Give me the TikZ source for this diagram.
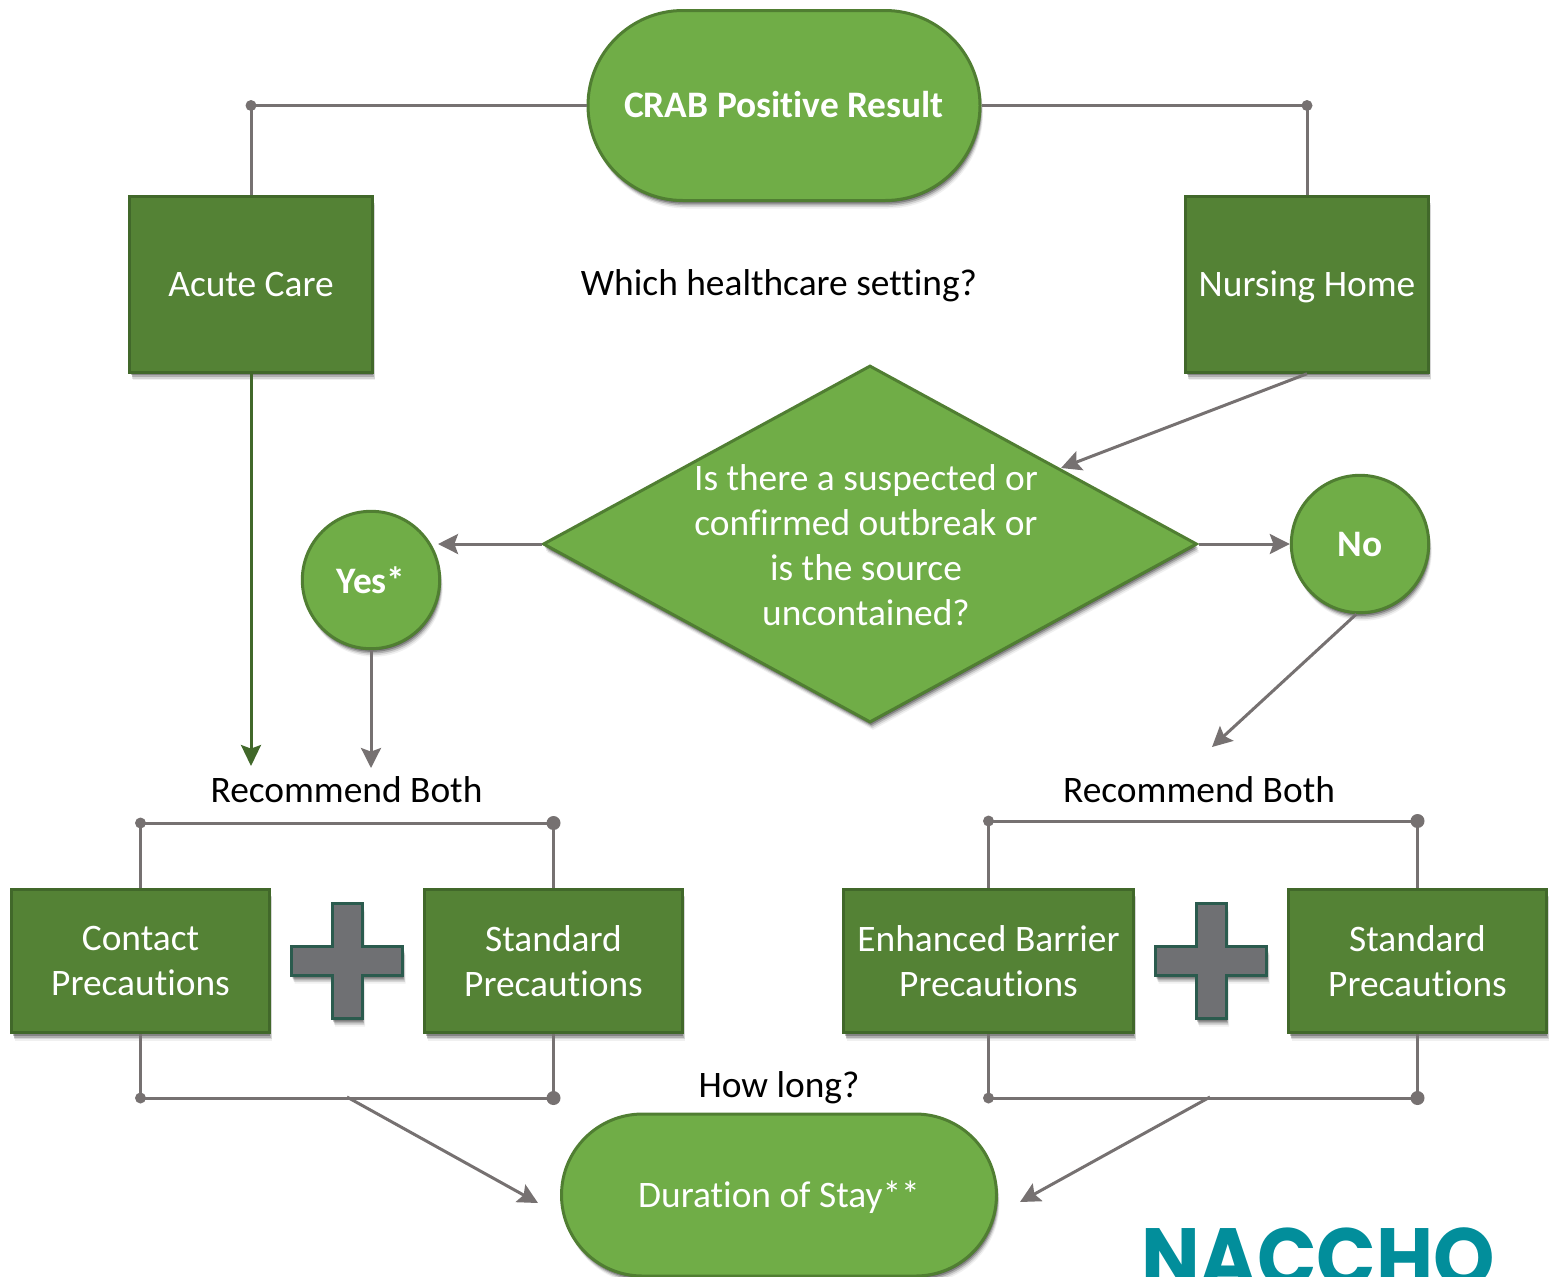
\documentclass[tikz,border=0pt]{standalone}
\usepackage{fontspec}
\setmainfont[Ligatures=NoCommon]{Carlito}
\newfontfamily\logofont{Poppins}
\usetikzlibrary{shadows,shapes.geometric,shapes.misc,arrows.meta}
\definecolor{lightg}{HTML}{70AD47}
\definecolor{lightb}{HTML}{507E32}
\definecolor{darkg}{HTML}{548235}
\definecolor{darkb}{HTML}{41682A}
\definecolor{linegray}{HTML}{767171}
\definecolor{plusb}{HTML}{2B5B4E}
\definecolor{plusf}{HTML}{6F7073}
\definecolor{teal}{HTML}{028E9B}
\tikzset{
  softshadow/.style={
    general shadow={shadow xshift=0.3pt,shadow yshift=-0.8pt,fill=black,opacity=.30},
    general shadow={shadow xshift=0.6pt,shadow yshift=-1.6pt,fill=black,opacity=.25},
    general shadow={shadow xshift=0.9pt,shadow yshift=-2.4pt,fill=black,opacity=.18},
    general shadow={shadow xshift=1.2pt,shadow yshift=-3.2pt,fill=black,opacity=.11},
    general shadow={shadow xshift=1.5pt,shadow yshift=-4pt,fill=black,opacity=.06}},
  txt/.style={font=\fontsize{18.7}{22.5}\selectfont,align=center,inner sep=0pt},
  wtxt/.style={txt,text=white},
  boxn/.style={draw=darkb,fill=darkg,line width=1.5pt,softshadow,wtxt,minimum width=#1*0.5pt-0.75pt,minimum height=0.5pt*145-0.75pt,inner sep=0pt},
  bigbox/.style={boxn=244,minimum height=0.5pt*177-0.75pt,text height=14pt,text depth=2pt},
  stadium/.style={rounded rectangle,draw=lightb,fill=lightg,line width=1.5pt,softshadow,wtxt,minimum height=#1*0.5pt},
  circ/.style={circle,draw=lightb,fill=lightg,line width=1.5pt,softshadow,wtxt,minimum size=68.7pt,font=\fontsize{18.7}{22.5}\selectfont\bfseries},
  dots/.style={circle,fill=linegray,inner sep=0pt,minimum size=5.5pt},
  dotl/.style={circle,fill=linegray,inner sep=0pt,minimum size=7pt},
  conn/.style={draw=linegray,line width=1.5pt},
  arr/.style={conn,-{Stealth[length=10pt,width=10pt,inset=1.8pt]}},
  garr/.style={draw=darkb,line width=1.5pt,-{Stealth[length=10.5pt,width=10pt,inset=1.8pt]}},
  plusshape/.style={draw=plusb,fill=plusf,line width=1.5pt,softshadow,line join=miter},
}
\newcommand{\plusat}[2]{%
  \path[plusshape,shift={(#1,#2)}] (-15,-57.5)--(15,-57.5)--(15,-14.5)--(55.5,-14.5)--(55.5,14.5)--(15,14.5)--(15,57.5)--(-15,57.5)--(-15,14.5)--(-55.5,14.5)--(-55.5,-14.5)--(-15,-14.5)--cycle;}
\begin{document}
\begin{tikzpicture}[x=0.5pt,y=-0.5pt]
\useasboundingbox (0,0) rectangle (1552,1276);
\clip (0,0) rectangle (1552,1276);
% main shapes
\node[stadium=190,minimum width=196pt] (crab) at (784,105.5) {};
\node[stadium=162,minimum width=217.5pt] (stay) at (779,1195) {};
\node[bigbox] (acute) at (251,284.5) {Acute Care};
\node[bigbox] (nursing) at (1307,284.5) {Nursing Home};
\node[diamond,draw=lightb,fill=lightg,line width=1.5pt,softshadow,inner sep=0pt,minimum width=327pt,minimum height=178.5pt] (dia) at (870,544) {};
\node[circ] (yes) at (371,580) {Yes*};
\node[circ] (no) at (1360,544) {No};
\node[boxn=259] (contact) at (140.5,961) {Contact\\Precautions};
\node[boxn=259] (std1) at (553.5,961) {Standard\\Precautions};
\node[boxn=291] (barrier) at (988.5,961) {Enhanced Barrier\\Precautions};
\node[boxn=259] (std2) at (1417.5,961) {Standard\\Precautions};
\plusat{347}{961}
\plusat{1211}{961}
% texts
\node[wtxt,font=\fontsize{18.7}{22.5}\selectfont\bfseries] (crabt) at (784,105) {CRAB Positive Result};
\node[wtxt] (stayt) at (779,1197) {Duration of Stay**};
\node[wtxt] (diat) at (866,545) {Is there a suspected or\\confirmed outbreak or\\is the source\\uncontained?};
\node[txt] (which) at (779,286) {Which healthcare setting?};
\node[txt] (rec1) at (346.5,790) {Recommend Both};
\node[txt] (rec2) at (1199,790) {Recommend Both};
\node[txt] (howlong) at (779,1088) {How long?};
\node[anchor=center,inner sep=0pt,text=teal,font=\logofont\fontsize{42}{42}\selectfont\bfseries,xscale=0.93] (logo) at (1318,1258) {NACCHO};
% junctions
\node[dots] (j1) at (251,105.5) {};
\node[dots] (j2) at (1307,105.5) {};
\node[dots] (j3) at (140.5,823) {};
\node[dotl] (j4) at (553.5,823) {};
\node[dots] (j5) at (988.5,821) {};
\node[dotl] (j6) at (1417.5,821) {};
\node[dots] (j7) at (140.5,1098) {};
\node[dotl] (j8) at (553.5,1098) {};
\node[dots] (j9) at (988.5,1098) {};
\node[dotl] (j10) at (1417.5,1098) {};
\coordinate (m1) at (347,1097);
\coordinate (m2) at (1210,1097);
\coordinate (a1) at (538,1203);
\coordinate (a2) at (1020,1202);
\coordinate (a3) at (1061,468);
\coordinate (a4) at (438,544);
\coordinate (a5) at (371,768);
\coordinate (a6) at (1212,747);
\coordinate (a7) at (251,766);
% connectors
\draw[conn] (acute.north) -- (j1.center) -- (crab.west);
\draw[conn] (nursing.north) -- (j2.center) -- (crab.east);
\draw[conn] (contact.north) -- (j3.center) -- (j4.center) -- (std1.north);
\draw[conn] (barrier.north) -- (j5.center) -- (j6.center) -- (std2.north);
\draw[conn] (contact.south) -- (j7.center) -- (j8.center) -- (std1.south);
\draw[conn] (barrier.south) -- (j9.center) -- (j10.center) -- (std2.south);
\draw[garr] (acute.south) -- (a7);
\draw[arr] (nursing.south) -- (a3);
\draw[arr] (dia.west) -- (a4);
\draw[arr] (dia.east) -- (no.west);
\draw[arr] (yes.south) -- (a5);
\draw[arr] (no.267) -- (a6);
\draw[arr] (m1) -- (a1);
\draw[arr] (m2) -- (a2);
\end{tikzpicture}
\end{document}
